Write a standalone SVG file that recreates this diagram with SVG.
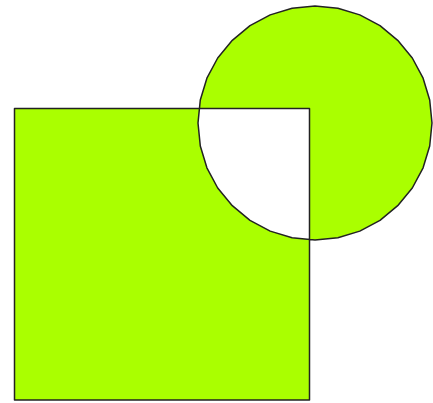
<svg xmlns="http://www.w3.org/2000/svg" width="433" height="403" viewBox="0 0 433 403">
<style>.shape{fill:#aaff00;fill-rule:evenodd;stroke:#222;stroke-width:1.5;stroke-linejoin:round}</style>
<rect width="433" height="403" fill="#fff"/>
<g id="xor-shape">
<path class="shape" d="M14.5,108.5 H309.5 V400 H14.5 Z M432,123 L429.7,100 L423.1,78.2 L412.3,58 L397.7,40.3 L380,25.7 L359.8,14.9 L337.9,8.3 L315,6 L292.1,8.3 L270.2,14.9 L250,25.7 L232.3,40.3 L217.7,58 L206.9,78.2 L200.3,100 L198,123 L200.3,146 L206.9,167.8 L217.7,188 L232.3,205.7 L250,220.3 L270.2,231.1 L292.1,237.7 L315,240 L337.9,237.7 L359.8,231.1 L380,220.3 L397.7,205.7 L412.3,188 L423.1,167.8 L429.7,146 Z"/>
</g>
</svg>
